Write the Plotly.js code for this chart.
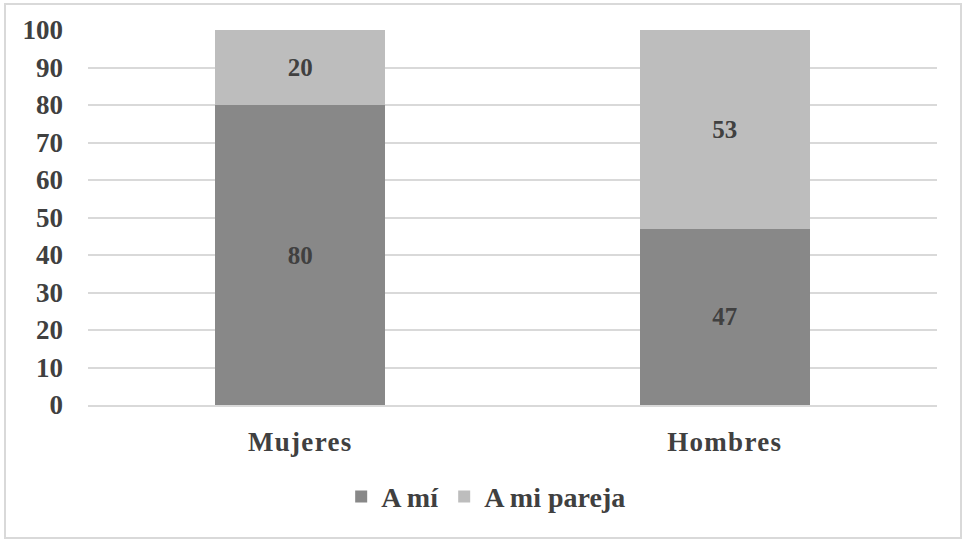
<!DOCTYPE html>
<html><head><meta charset="utf-8">
<script src="https://cdn.plot.ly/plotly-3.0.1.min.js"></script>
<style>
html,body{margin:0;padding:0;background:#fff;}
#wrap{position:relative;width:968px;height:546px;}
#chart{width:968px;height:546px;}
#frame{position:absolute;left:4px;top:3px;width:958px;height:536px;border:2px solid #d9d9d9;pointer-events:none;box-sizing:border-box;}
#chart .xtick text{letter-spacing:1.3px;}
</style></head>
<body>
<div id="wrap"><div id="chart"></div><div id="frame"></div></div>
<script>
const categories = ['Mujeres', 'Hombres'];
const aMi = [80, 47];
const aMiPareja = [20, 53];
const seriesNames = ['A mí', 'A mi pareja'];
const tickVals = [0,10,20,30,40,50,60,70,80,90,100];

const font = {family: 'Liberation Serif', size: 27, color: '#404040', weight: 'bold'};
const legendFont = {family: 'Liberation Serif', size: 28, color: '#404040', weight: 'bold'};
const labelFont = {family: 'Liberation Serif', size: 25, color: '#404040', weight: 'bold'};

const traces = [
  {type:'bar', name: seriesNames[0], x: categories, y: aMi,
   marker:{color:'#888888'}, text: aMi.map(String), textposition:'inside',
   insidetextanchor:'middle', textfont:labelFont, hoverinfo:'none'},
  {type:'bar', name: seriesNames[1], x: categories, y: aMiPareja,
   marker:{color:'#bdbdbd'}, text: aMiPareja.map(String), textposition:'inside',
   insidetextanchor:'middle', textfont:labelFont, hoverinfo:'none'}
];

const layout = {
  width: 968, height: 546,
  margin: {l: 88, r: 31, t: 30, b: 141},
  barmode: 'stack', bargap: 0.6,
  paper_bgcolor: '#fff', plot_bgcolor: '#fff',
  font: font,
  showlegend: true,
  legend: {orientation: 'h', x: 0.469, xanchor: 'center', y: -0.245, yanchor: 'middle',
           font: legendFont, traceorder: 'normal'},
  xaxis: {tickvals: categories, ticktext: categories, showline: true,
          linecolor: '#d9d9d9', linewidth: 2, ticks: '', tickfont: font, ticklabelstandoff: 12},
  yaxis: {range: [0, 100], tickvals: tickVals, ticktext: tickVals.map(String),
          showgrid: true, gridcolor: '#d9d9d9', gridwidth: 2, zeroline: false,
          ticks: '', tickfont: font, ticklabelstandoff: 24}
};

Plotly.newPlot('chart', traces, layout, {staticPlot: true, displayModeBar: false});
</script>
</body></html>
